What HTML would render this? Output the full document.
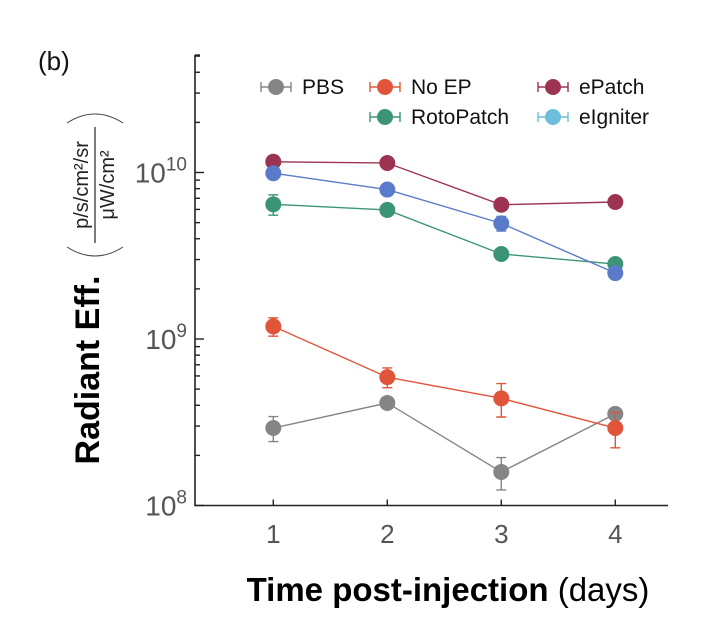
<!DOCTYPE html>
<html><head><meta charset="utf-8"><style>
body{margin:0;background:#fff;}
svg{display:block;font-family:"Liberation Sans",Arial,sans-serif;}
</style></head><body>
<svg id="chart" width="726" height="630" viewBox="0 0 726 630" xmlns="http://www.w3.org/2000/svg">
<text x="38" y="70" font-size="26" fill="#111">(b)</text>
<g id="axes"></g>
<g id="series"></g>
<g id="legend"></g>
<text transform="translate(99,370) rotate(-90)" text-anchor="middle" font-size="34" font-weight="bold" fill="#000">Radiant Eff.</text>
<g transform="translate(95,185) rotate(-90)">
<text x="0" y="-7" text-anchor="middle" font-size="20" fill="#222">p/s/cm²/sr</text>
<line x1="-58" y1="0" x2="58" y2="0" stroke="#222" stroke-width="1.2"/>
<text x="0" y="19" text-anchor="middle" font-size="20" fill="#222">μW/cm²</text>
<path d="M-62,-28 Q-80,0 -62,28" fill="none" stroke="#444" stroke-width="1"/>
<path d="M62,-28 Q80,0 62,28" fill="none" stroke="#444" stroke-width="1"/>
</g>
<text x="448" y="601" text-anchor="middle" font-size="33" fill="#000"><tspan font-weight="bold">Time post-injection</tspan> (days)</text>
</svg>
<script>
const days=[1,2,3,4];
const seriesNames=["PBS","No EP","RotoPatch","ePatch","eIgniter"];
const pbs=[2.92e8,4.13e8,1.59e8,3.55e8];
const pbsErr=[0.5e8,0.2e8,0.35e8,0.2e8];
const noEP=[1.19e9,5.9e8,4.4e8,2.92e8];
const noEPErr=[0.15e9,0.8e8,1.0e8,0.7e8];
const roto=[6.44e9,5.96e9,3.24e9,2.82e9];
const rotoErr=[0.9e9,0.3e9,0.15e9,0.1e9];
const ePatch=[1.16e10,1.14e10,6.4e9,6.65e9];
const ePatchErr=[0.1e10,0.05e10,0.2e9,0.2e9];
const eIgn=[9.9e9,7.9e9,4.95e9,2.49e9];
const eIgnErr=[0.7e9,0.3e9,0.5e9,0.1e9];
const yTicks=[8,9,10];

const NS="http://www.w3.org/2000/svg";
const X0=273.3,DX=114,Y8=505.5,DEC=166.5,AXL=195,AXB=505.5,AXT=55,AXR=668;
const xS=d=>X0+(d-1)*DX;
const yS=v=>Y8-(Math.log10(v)-8)*DEC;
function mk(tag,attrs,parent){const e=document.createElementNS(NS,tag);for(const k in attrs)e.setAttribute(k,attrs[k]);parent.appendChild(e);return e;}
const axes=document.getElementById('axes');
let a=mk('path',{d:`M${AXL},${AXT} V${AXB} H${AXR}`,fill:'none',stroke:'#222','stroke-width':1.6},axes);


for(let e=8;e<=10;e++){for(let m=1;m<=9;m++){const v=m*Math.pow(10,e);const y=yS(v);if(y<AXT-1)break;
 let t=mk('line',{x1:AXL,x2:AXL+(m===1?9:5),y1:y,y2:y,stroke:'#222','stroke-width':1.4},axes);
 
 }}
let tt=mk('line',{x1:AXL,x2:AXL+5,y1:AXT,y2:AXT,stroke:'#222','stroke-width':1.4},axes);


yTicks.forEach(p=>{const y=yS(Math.pow(10,p));
 const t=mk('text',{x:AXL-8,y:y+10,'text-anchor':'end','font-size':28,fill:'#555'},axes);
 
 
 t.innerHTML='10<tspan dy="-12" font-size="19">'+p+'</tspan>';});
days.forEach(d=>{const x=xS(d);
 let l=mk('line',{x1:x,x2:x,y1:AXB,y2:AXB-6,stroke:'#222','stroke-width':1.4},axes);
 
 
 const t=mk('text',{x:x,y:543,'text-anchor':'middle','font-size':26,fill:'#555'},axes);
 
 
 t.textContent=d;});
const cols=["#858585","#e0553a","#3b9477","#9c3350","#5a7bc9"];
const vals=[pbs,noEP,roto,ePatch,eIgn];
const errs=[pbsErr,noEPErr,rotoErr,ePatchErr,eIgnErr];
const sg=document.getElementById('series');
vals.forEach((vs,i)=>{const g=mk('g',{},sg);
 
 
 const pl=mk('polyline',{points:vs.map((v,j)=>xS(days[j])+','+yS(v)).join(' '),fill:'none',stroke:cols[i],'stroke-width':1.4},g);
 
 
 vs.forEach((v,j)=>{const x=xS(days[j]);const y1=yS(v+errs[i][j]),y2=yS(Math.max(v-errs[i][j],1));
  const eb=mk('path',{d:`M${x},${y1}V${y2}M${x-5},${y1}H${x+5}M${x-5},${y2}H${x+5}`,stroke:cols[i],'stroke-width':1.4,fill:'none'},g);
  
  
  const c=mk('circle',{cx:x,cy:yS(v),r:8,fill:cols[i]},g);
  
  });});
const lg=document.getElementById('legend');
const lpos=[[276,87],[385,87],[385,117],[553,87],[553,117]];
const lcols=["#858585","#e0553a","#3b9477","#9c3350","#6bbfdc"];
seriesNames.forEach((n,i)=>{const [x,y]=lpos[i];const g=mk('g',{},lg);
 
 
 mk('path',{d:`M${x-15},${y}H${x+15}M${x-15},${y-5}V${y+5}M${x+15},${y-5}V${y+5}`,stroke:lcols[i],'stroke-width':1.4,fill:'none'},g);
 mk('circle',{cx:x,cy:y,r:8,fill:lcols[i]},g);
 const t=mk('text',{x:x+26,y:y+7,'font-size':21,fill:'#111'},g);
 t.textContent=n;});
</script>
</body></html>
